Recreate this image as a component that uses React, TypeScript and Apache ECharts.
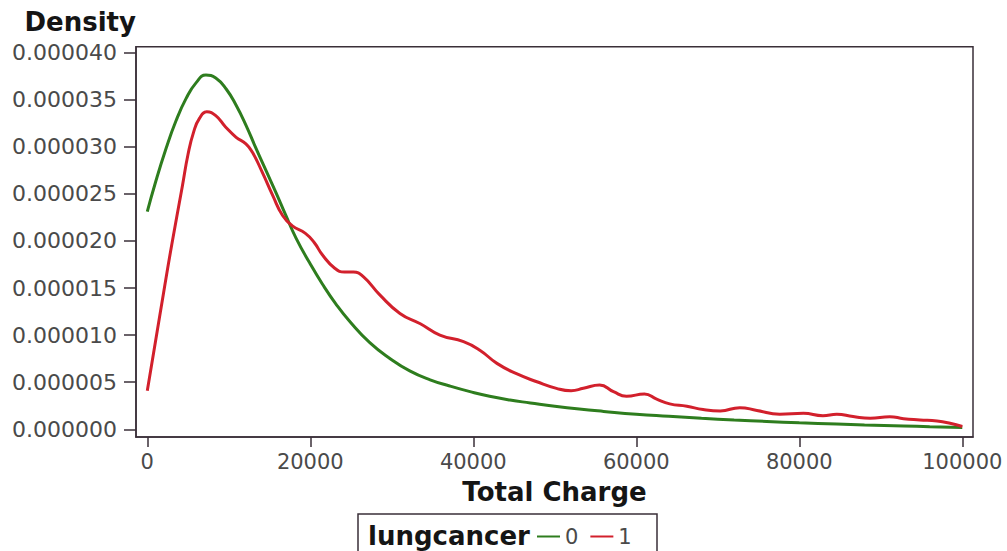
import React, { useEffect, useRef } from "react";
import * as echarts from "echarts";

// Total charge grid points and density estimates, group lungcancer = 0
const charge0 = [0, 1000, 2300, 3500, 4750, 6000, 7200, 8400, 9700, 10900, 12100, 13300, 14600, 15800, 17000, 18250, 19900, 21500, 23150, 24900, 27300, 29800, 32200, 34700, 37100, 39600, 42000, 44500, 47000, 50000, 53000, 56000, 60000, 64000, 68000, 72000, 76000, 80000, 84600, 88000, 92800, 96000, 100000];
const density0 = [2.31e-5, 2.62e-5, 2.98e-5, 3.27e-5, 3.51e-5, 3.68e-5, 3.76e-5, 3.73e-5, 3.61e-5, 3.44e-5, 3.23e-5, 2.99e-5, 2.74e-5, 2.51e-5, 2.27e-5, 2.03e-5, 1.77e-5, 1.54e-5, 1.33e-5, 1.14e-5, 9.2e-6, 7.5e-6, 6.2e-6, 5.25e-6, 4.6e-6, 4.0e-6, 3.5e-6, 3.1e-6, 2.8e-6, 2.45e-6, 2.15e-6, 1.9e-6, 1.6e-6, 1.38e-6, 1.17e-6, 9.9e-7, 8.3e-7, 6.9e-7, 5.6e-7, 4.6e-7, 3.6e-7, 2.8e-7, 2.0e-7];

// group lungcancer = 1
const charge1 = [0, 1000, 2000, 3000, 4300, 5000, 5700, 6400, 7300, 8400, 9600, 10900, 12100, 12900, 14100, 15400, 16600, 17800, 19400, 20500, 21500, 23000, 24200, 25300, 26500, 28500, 31000, 33500, 35900, 38800, 40800, 42900, 45300, 47800, 50200, 52000, 53500, 55500, 57200, 58800, 61000, 62500, 64100, 66200, 68200, 70300, 72700, 74800, 77600, 80500, 82900, 84600, 86600, 88700, 91100, 92800, 94800, 96900, 98500, 100000];
const density1 = [4.1e-6, 9.3e-6, 1.45e-5, 1.96e-5, 2.58e-5, 2.92e-5, 3.16e-5, 3.3e-5, 3.37e-5, 3.33e-5, 3.21e-5, 3.1e-5, 3.03e-5, 2.94e-5, 2.73e-5, 2.48e-5, 2.27e-5, 2.16e-5, 2.08e-5, 1.98e-5, 1.85e-5, 1.71e-5, 1.67e-5, 1.67e-5, 1.62e-5, 1.43e-5, 1.23e-5, 1.12e-5, 1.0e-5, 9.3e-6, 8.4e-6, 7.0e-6, 5.9e-6, 5.05e-6, 4.35e-6, 4.1e-6, 4.35e-6, 4.7e-6, 4.0e-6, 3.5e-6, 3.75e-6, 3.2e-6, 2.7e-6, 2.45e-6, 2.1e-6, 1.95e-6, 2.3e-6, 2.0e-6, 1.6e-6, 1.7e-6, 1.45e-6, 1.6e-6, 1.35e-6, 1.17e-6, 1.34e-6, 1.13e-6, 1.0e-6, 8.8e-7, 6.4e-7, 3.0e-7];

const xTicks = [0, 20000, 40000, 60000, 80000, 100000];
const yTicks = [0, 0.000005, 0.00001, 0.000015, 0.00002, 0.000025, 0.00003, 0.000035, 0.00004];

const groupNames = ["0", "1"];
const groupColors = ["#2e7d1e", "#d2202c"];

const FONT = "DejaVu Sans";

export default function App() {
  const ref = useRef<HTMLDivElement>(null);
  useEffect(() => {
    if (!ref.current) return;
    const chart = echarts.init(ref.current, null, { renderer: "svg" });
    const frame = "#3a2f38";
    const pairs = (xs: number[], ys: number[]) => xs.map((x, i) => [x, ys[i]]);
    chart.setOption({
      animation: false,
      backgroundColor: "#ffffff",
      grid: {
        left: 136,
        right: 34,
        top: 46.7,
        bottom: 114,
        show: true,
        borderColor: frame,
        borderWidth: 1.5,
        backgroundColor: "#ffffff",
      },
      xAxis: {
        type: "value",
        min: -1386,
        max: 101313,
        name: "Total Charge",
        nameLocation: "middle",
        nameGap: 42,
        nameTextStyle: { fontFamily: FONT, fontWeight: "bold", fontSize: 26, color: "#151515" },
        axisLine: { show: true, onZero: false, lineStyle: { color: frame, width: 1.5 } },
        axisTick: { show: true, inside: false, length: 10, customValues: xTicks, lineStyle: { color: frame, width: 1.5 } },
        axisLabel: {
          customValues: xTicks,
          margin: 14,
          fontFamily: FONT,
          fontSize: 21,
          color: "#4a4a4a",
          formatter: (v: number) => String(v),
        },
        splitLine: { show: false },
      },
      yAxis: {
        type: "value",
        min: -8.17e-7,
        max: 4.0616e-5,
        name: "Density",
        nameLocation: "end",
        nameGap: 24.7,
        nameTextStyle: { fontFamily: FONT, fontWeight: "bold", fontSize: 26, color: "#151515", align: "right", verticalAlign: "middle" },
        axisLine: { show: true, onZero: false, lineStyle: { color: frame, width: 1.5 } },
        axisTick: { show: true, inside: false, length: 12, customValues: yTicks, lineStyle: { color: frame, width: 1.5 } },
        axisLabel: {
          customValues: yTicks,
          margin: 19,
          fontFamily: FONT,
          fontSize: 22,
          color: "#4a4a4a",
          formatter: (v: number) => v.toFixed(6),
        },
        splitLine: { show: false },
      },
      legend: {
        left: 537,
        top: 526,
        padding: 0,
        icon: "rect",
        itemWidth: 23,
        itemHeight: 2,
        itemGap: 12,
        textStyle: { fontFamily: FONT, fontSize: 21, color: "#4a4a4a" },
        data: groupNames,
      },
      graphic: [
        {
          type: "rect",
          shape: { x: 358, y: 514, width: 299, height: 60 },
          style: { fill: "none", stroke: frame, lineWidth: 1.5 },
          z: -1,
        },
        {
          type: "text",
          x: 368,
          y: 536,
          style: {
            text: "lungcancer",
            fontFamily: FONT,
            fontWeight: "bold",
            fontSize: 26,
            fill: "#151515",
            verticalAlign: "middle",
          },
        },
      ],
      series: [
        {
          name: groupNames[0],
          type: "line",
          data: pairs(charge0, density0),
          showSymbol: false,
          symbol: "none",
          smooth: 0.5,
          color: groupColors[0],
          lineStyle: { width: 3, color: groupColors[0] },
        },
        {
          name: groupNames[1],
          type: "line",
          data: pairs(charge1, density1),
          showSymbol: false,
          symbol: "none",
          smooth: 0.5,
          color: groupColors[1],
          lineStyle: { width: 3, color: groupColors[1] },
        },
      ],
    });
    return () => chart.dispose();
  }, []);
  return (
    <div
      ref={ref}
      style={{ position: "fixed", left: 0, top: 0, width: 1007, height: 551, background: "#fff" }}
    />
  );
}
